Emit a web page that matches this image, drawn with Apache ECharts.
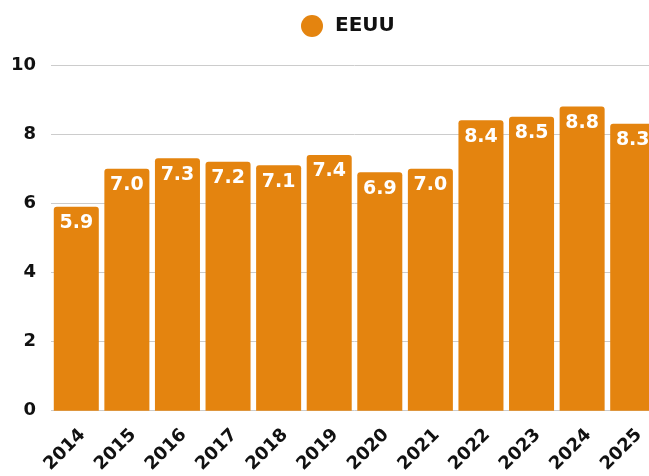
<!DOCTYPE html>
<html>
<head>
<meta charset="utf-8">
<script src="https://cdn.jsdelivr.net/npm/echarts@6/dist/echarts.min.js"></script>
<style>
  html, body { margin: 0; padding: 0; background: #fff; }
  #wrap { width: 649px; height: 476px; overflow: hidden; position: relative; }
  #chart { width: 658px; height: 476px; position: absolute; left: 0; top: 0; }
</style>
</head>
<body>
<div id="wrap"><div id="chart"></div></div>
<script>
(function () {
    var myChart = echarts.init(document.getElementById('chart'));
    let years = ['2014', '2015', '2016', '2017', '2018', '2019', '2020', '2021', '2022', '2023', '2024', '2025'];
    let values = [5.9, 7.0, 7.3, 7.2, 7.1, 7.4, 6.9, 7.0, 8.4, 8.5, 8.8, 8.3];
    let font = 'DejaVu Sans';

    var option = {
        animation: false,
        textStyle: { fontFamily: font },
        legend: {
            top: 10,
            left: 296,
            icon: 'circle',
            itemWidth: 22,
            itemHeight: 22,
            itemGap: 10,
            textStyle: {
                fontFamily: font,
                fontWeight: 'bold',
                fontSize: 20,
                color: '#111',
                padding: [0, 0, 0, 7]
            },
            data: ['EEUU']
        },
        grid: {
            left: 51,
            right: 0,
            top: 65,
            bottom: 62,
            containLabel: false
        },
        xAxis: {
            type: 'category',
            data: years,
            axisTick: { show: false },
            axisLine: { show: false },
            axisLabel: {
                rotate: 45,
                interval: 0,
                margin: 15,
                verticalAlign: 'top',
                fontFamily: font,
                fontWeight: 'bold',
                fontSize: 18,
                color: '#111'
            }
        },
        yAxis: {
            type: 'value',
            min: 0,
            max: 10,
            interval: 2,
            axisLine: { show: false },
            axisTick: { show: false },
            axisLabel: {
                margin: 15,
                fontFamily: font,
                fontWeight: 'bold',
                fontSize: 18,
                color: '#111'
            },
            splitLine: { lineStyle: { color: '#cccccc', width: 1 } }
        },
        series: [
            {
                name: 'EEUU',
                type: 'bar',
                barCategoryGap: '11%',
                itemStyle: {
                    color: '#E4840F',
                    borderRadius: [3, 3, 0, 0]
                },
                label: {
                    show: true,
                    position: 'insideTop',
                    distance: 7,
                    formatter: function (p) { return p.value.toFixed(1); },
                    fontFamily: font,
                    fontWeight: 'bold',
                    fontSize: 19,
                    color: '#fff'
                },
                data: values
            }
        ]
    };

    myChart.setOption(option);
    window.addEventListener('resize', function () {
        myChart.resize();
    });
})();
</script>
</body>
</html>
